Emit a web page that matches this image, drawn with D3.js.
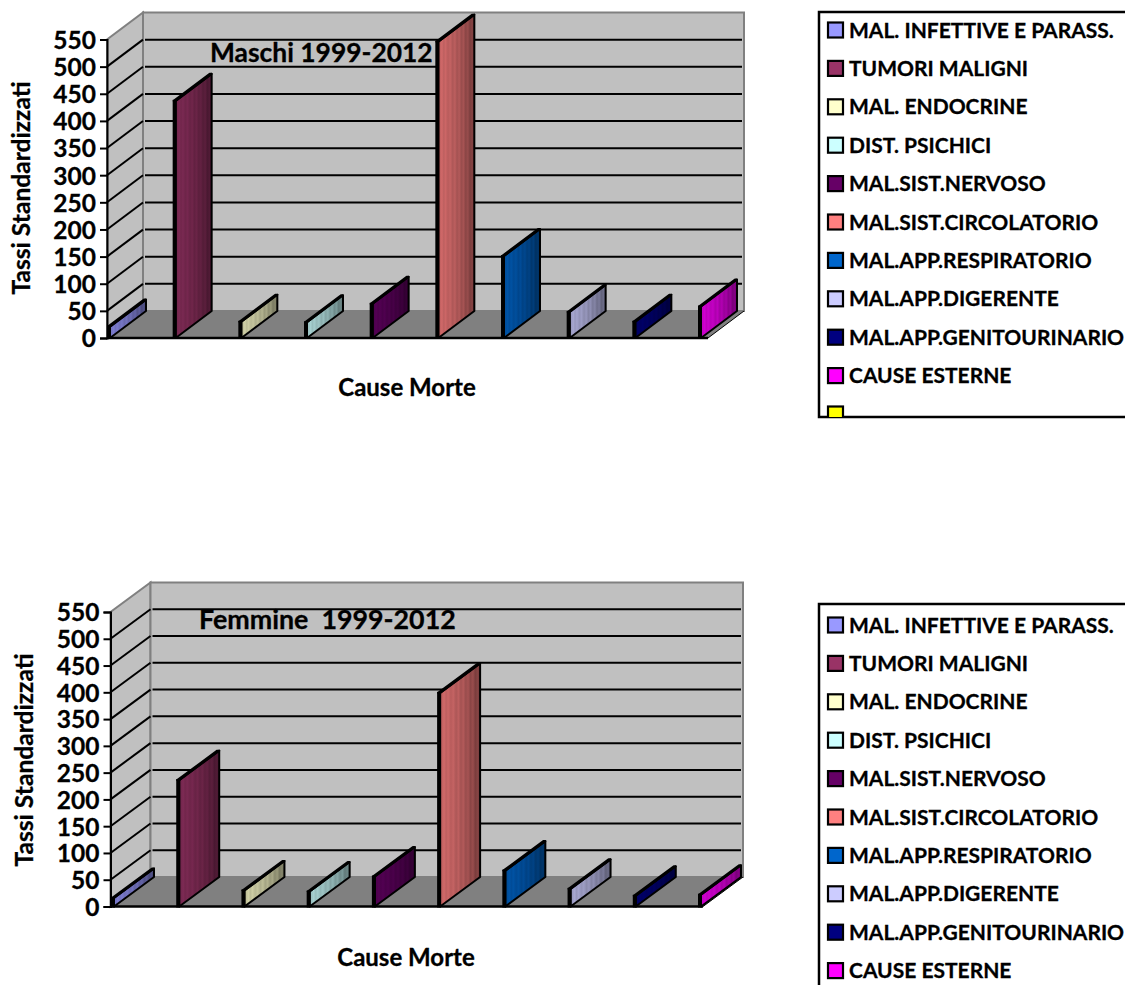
<!DOCTYPE html>
<html><head><meta charset="utf-8">
<script src="https://cdnjs.cloudflare.com/ajax/libs/d3/7.8.5/d3.min.js"></script>
<style>html,body{margin:0;padding:0;background:#fff;overflow:hidden}svg{display:block}text{font-family:Lato,"Open Sans",sans-serif;font-weight:700;fill:#000;stroke:#000;stroke-width:.3px}</style>
</head><body><svg id="c" width="1125" height="985"></svg>
<script>
const categories=["MAL. INFETTIVE E PARASS.","TUMORI MALIGNI","MAL. ENDOCRINE","DIST. PSICHICI","MAL.SIST.NERVOSO","MAL.SIST.CIRCOLATORIO","MAL.APP.RESPIRATORIO","MAL.APP.DIGERENTE","MAL.APP.GENITOURINARIO","CAUSE ESTERNE"];
const colors=["#9999ff","#993366","#ffffcc","#ccffff","#660066","#ff8080","#0066cc","#ccccff","#000080","#ff00ff"];
const extraColor="#ffff00";
const maschi=[21,437,30,29,63,546,151,48,30,58];
const femmine=[16,236,30,28,56,399,67,33,20,22];
const ticks=d3.range(0,551,50);

const svg=d3.select("#c"), defs=svg.append("defs");
const stripes=[[0,.82],[.05,.76],[.1,.82],[.15,.74],[.2,.8],[.27,.72],[.33,.77],[.4,.68],[.46,.74],[.52,.64],[.58,.7],[.64,.6],[.7,.65],[.76,.54],[.82,.6],[.88,.48],[.94,.53],[1,.42]];
colors.forEach((c,i)=>{
  const g=defs.append("linearGradient").attr("id","g"+i);
  stripes.forEach(([o,k])=>{
    const r=d3.rgb(c);
    g.append("stop").attr("offset",o).attr("stop-color",d3.rgb(r.r*k,r.g*k,r.b*k).formatHex());
  });
});

function chart(o){
  const g=svg.append("g");
  const y=d3.scaleLinear().domain([0,550]).range([o.y0,o.y550]);
  const x=d3.scalePoint().domain(categories).range([o.x0,o.xLast]);
  const {dx,dy,xL,xR}=o;
  const poly=p=>p.map(q=>q.join(",")).join(" ");
  // walls
  g.append("polygon").attr("points",poly([[xL,y(0)],[xL,y(550)],[xL+dx,y(550)+dy],[xL+dx,y(0)+dy]])).attr("fill","#c0c0c0").attr("stroke","#808080").attr("stroke-width",2);
  g.append("polygon").attr("points",poly([[xL+dx,y(0)+dy],[xL+dx,y(550)+dy],[xR+dx,y(550)+dy],[xR+dx,y(0)+dy]])).attr("fill","#c0c0c0").attr("stroke","#808080").attr("stroke-width",2);
  g.append("polygon").attr("points",poly([[xL,y(0)],[xL+dx,y(0)+dy],[xR+dx,y(0)+dy],[xR,y(0)]])).attr("fill","#808080");
  g.append("line").attr("x1",xR).attr("y1",y(0)).attr("x2",xR+dx).attr("y2",y(0)+dy).attr("stroke","#000").attr("stroke-width",1);
  // grid
  const gv=ticks.filter(t=>t>0);
  g.selectAll(".gb").data(gv.filter(t=>t<550)).join("line").attr("x1",xL+dx+2).attr("x2",xR+dx-2).attr("y1",t=>y(t)+dy).attr("y2",t=>y(t)+dy).attr("stroke","#000").attr("stroke-width",2);
  g.selectAll(".gs").data(gv.filter(t=>t<550)).join("line").attr("x1",xL).attr("x2",xL+dx).attr("y1",t=>y(t)).attr("y2",t=>y(t)+dy).attr("stroke","#000").attr("stroke-width",2);
  // bars
  const w=2;
  const bars=g.selectAll(".bar").data(o.values.map((v,i)=>({v,i,c:categories[i]}))).join("g");
  bars.append("polygon").attr("points",d=>{const a=x(d.c)+w,t=y(d.v);return poly([[a,y(0)],[a,t],[a+dx,t+dy],[a+dx,y(0)+dy]]);})
    .attr("fill",d=>`url(#g${d.i})`).attr("stroke","#000").attr("stroke-width",2).attr("stroke-linejoin","round");
  bars.append("polygon").attr("points",d=>{const a=x(d.c),t=y(d.v);return poly([[a,t],[a+w,t],[a+w+dx,t+dy],[a+dx,t+dy]]);})
    .attr("fill",d=>colors[d.i]).attr("stroke","#000").attr("stroke-width",2).attr("stroke-linejoin","round");
  bars.append("rect").attr("x",d=>x(d.c)).attr("y",d=>y(d.v)).attr("width",w).attr("height",d=>y(0)-y(d.v)).attr("fill",d=>colors[d.i]).attr("stroke","#000").attr("stroke-width",2);
  // axes
  g.append("line").attr("x1",xL).attr("x2",xR).attr("y1",y(0)).attr("y2",y(0)).attr("stroke","#000").attr("stroke-width",2.5);
  const ax=g.append("g").attr("transform",`translate(${xL},0)`).call(d3.axisLeft(y).tickValues(ticks).tickSize(7).tickPadding(4));
  ax.selectAll("path,line").attr("stroke","#000").attr("stroke-width",2);
  ax.selectAll("text").style("font-size","24.5px").style("font-family","Lato").style("font-weight","700").attr("dy","0.36em");
  // labels
  g.append("text").attr("x",o.titleX).attr("y",o.titleY).style("font-size",o.titleSize).style("white-space","pre").text(o.title);
  g.append("text").attr("x",o.xtX).attr("y",o.xtY).attr("text-anchor","middle").style("font-size","24px").text("Cause Morte");
  g.append("text").attr("transform",`translate(${o.ytX},${o.ytY}) rotate(-90)`).attr("text-anchor","middle").style("font-size","24.6px").text("Tassi Standardizzati");
  // legend
  const lg=svg.append("g");
  const L=d3.scalePoint().domain(d3.range(11)).range([o.legTop,o.legTop+384]);
  const clipId="lc"+o.legTop;
  defs.append("clipPath").attr("id",clipId).append("rect").attr("x",o.legX).attr("y",o.legBoxTop).attr("width",400).attr("height",o.legBoxBottom-o.legBoxTop);
  lg.append("path").attr("d",`M1130,${o.legBoxTop}H${o.legX}V${o.legBoxBottom}H1130`).attr("fill","none").attr("stroke","#000").attr("stroke-width",2.5);
  const inner=lg.append("g").attr("clip-path",`url(#${clipId})`);
  const items=categories.map((c,i)=>({c,fill:colors[i]})).concat([{c:"",fill:extraColor}]);
  const it=inner.selectAll("g").data(items).join("g").attr("transform",(d,i)=>`translate(0,${L(i)})`);
  it.append("rect").attr("x",828).attr("y",-7.5).attr("width",15).attr("height",15).attr("fill",d=>d.fill).attr("stroke","#000").attr("stroke-width",2.2);
  it.append("text").attr("x",849).attr("y",7.5).style("font-size","21px").text(d=>d.c);
}
chart({values:maschi,y0:338,y550:39.5,x0:108,xLast:699,dx:36,dy:-27,xL:107,xR:708,title:"Maschi 1999-2012",titleSize:"26.4px",titleX:210,titleY:62,xtX:407,xtY:396,ytX:30,ytY:188,legX:819,legBoxTop:12,legBoxBottom:417,legTop:30});
chart({values:femmine,y0:906.5,y550:612,x0:112,xLast:699,dx:40,dy:-29.5,xL:110.5,xR:703,title:"Femmine  1999-2012",titleSize:"26.8px",titleX:199,titleY:629,xtX:406,xtY:965.5,ytX:33,ytY:760,legX:819,legBoxTop:604,legBoxBottom:1010,legTop:625});
</script></body></html>
